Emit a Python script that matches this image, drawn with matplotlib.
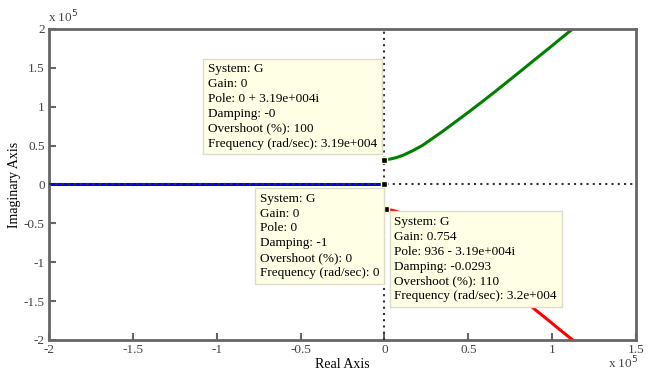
import matplotlib
matplotlib.use('Agg')
import matplotlib.pyplot as plt

plt.rcParams['font.family'] = ['Liberation Serif', 'DejaVu Serif']

# root locus branches (units of 1e5)
upper_re = [0.0, 0.03, 0.07, 0.11, 0.16, 0.225, 0.285, 0.345, 0.42, 0.504,
            0.58, 0.663, 0.74, 0.822, 0.9, 0.981, 1.05, 1.12]
upper_im = [0.319, 0.325, 0.345, 0.375, 0.425, 0.50, 0.59, 0.68, 0.80, 0.935,
            1.06, 1.20, 1.333, 1.475, 1.612, 1.752, 1.875, 1.996]
lower_re = upper_re
lower_im = [-v for v in upper_im]
real_re = [-2.0, 0.0]
real_im = [0.0, 0.0]

# data tips
tip_x = [0.0, 0.0, 0.00936]
tip_y = [0.319, 0.0, -0.319]
tip_text = [
    "System: G\nGain: 0\nPole: 0 + 3.19e+004i\nDamping: -0\nOvershoot (%): 100\nFrequency (rad/sec): 3.19e+004",
    "System: G\nGain: 0\nPole: 0\nDamping: -1\nOvershoot (%): 0\nFrequency (rad/sec): 0",
    "System: G\nGain: 0.754\nPole: 936 - 3.19e+004i\nDamping: -0.0293\nOvershoot (%): 110\nFrequency (rad/sec): 3.2e+004",
]
# text anchors (data units)
tip_box = [(-1.052, 1.56), (-0.742, -0.105), (0.06, -0.405)]

xticks = [-2, -1.5, -1, -0.5, 0, 0.5, 1, 1.5]
yticks = [-2, -1.5, -1, -0.5, 0, 0.5, 1, 1.5, 2]

fig = plt.figure(figsize=(6.48, 3.71), dpi=100)
ax = fig.add_axes([0.0756, 0.0836, 0.9059, 0.8383])

ax.plot(real_re, real_im, color='#0000ff', lw=2.2, zorder=2)
ax.axhline(0, color='#333333', lw=1.5, ls=(0, (1, 2)), zorder=3)
ax.axvline(0, color='#333333', lw=1.5, ls=(0, (1, 2)), zorder=3)
ax.plot(upper_re, upper_im, color='#008000', lw=2.2, zorder=2)
ax.plot(lower_re, lower_im, color='#ff0000', lw=2.2, zorder=2)

ax.plot(tip_x, tip_y, ls='none', marker='s', ms=4, color='black',
        markeredgecolor='#ffffcc', markeredgewidth=1, zorder=5)

for (bx, by), txt in zip(tip_box, tip_text):
    ax.text(bx, by, txt, fontsize=9.5, va='top', ha='left', linespacing=1.32,
            color='black', zorder=6,
            bbox=dict(boxstyle='square,pad=0.35', facecolor='#ffffe6',
                      edgecolor='#dcdcc8', lw=1))

ax.set_xlim(-2, 1.5)
ax.set_ylim(-2, 2)
ax.set_xticks(xticks)
ax.set_yticks(yticks)
ax.set_xticklabels(['%g' % t for t in xticks])
ax.set_yticklabels(['%g' % t for t in yticks])
ax.tick_params(direction='in', length=5, width=1.5, color='#666666',
               labelcolor='#444444', labelsize=9.5, pad=3,
               top=False, right=False)
for s in ax.spines.values():
    s.set_color('#666666')
    s.set_linewidth(2)

ax.set_xlabel('Real Axis', fontsize=10, labelpad=1)
ax.set_ylabel('Imaginary Axis', fontsize=10, labelpad=2)

fig.text(48 / 648, 1 - 17 / 371, r'x 10$^5$', fontsize=9.5, color='#444444',
         va='center', ha='left')
fig.text(608 / 648, 1 - 363 / 371, r'x 10$^5$', fontsize=9.5, color='#444444',
         va='center', ha='left')

fig.savefig('out.png', dpi=100)
